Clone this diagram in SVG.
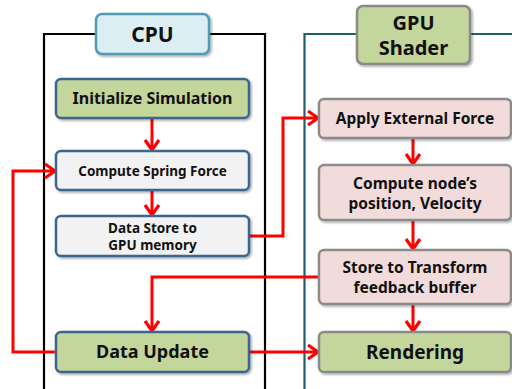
<svg xmlns="http://www.w3.org/2000/svg" width="512" height="389" viewBox="0 0 512 389">
<style>
text{font-family:"Noto Sans","Open Sans","DejaVu Sans",sans-serif;font-weight:bold;fill:#111;text-anchor:middle}
.cpu{stroke:#3E6591;stroke-width:2.5}
.gpu{stroke:#8A8A8A;stroke-width:2.5}
.green{fill:#C3D69B}
.gray{fill:#F2F2F2}
.pink{fill:#F2DCDB}
.conn{fill:none;stroke:#FF0000;stroke-width:3;marker-end:url(#ah)}
</style>
<defs>
<filter id="sh" x="-10%" y="-20%" width="125%" height="150%">
<feDropShadow dx="1.5" dy="1.5" stdDeviation="1.2" flood-color="#000" flood-opacity="0.35"/>
</filter>
<marker id="ah" viewBox="-13 -9 16 18" refX="1" refY="0" markerWidth="16" markerHeight="18" markerUnits="userSpaceOnUse" orient="auto">
<path d="M-10,-7 L0,0 L-10,7" fill="none" stroke="#FF0000" stroke-width="3.2"/>
</marker>
</defs>
<rect width="512" height="389" fill="#fff"/>
<g id="containers">
<path d="M44,395 V34 H265 V395" fill="none" stroke="#000" stroke-width="2.2"/>
<path d="M304.5,395 V34 H520" fill="none" stroke="#215E6E" stroke-width="2.2"/>
</g>
<g id="connectors">
<path class="conn" d="M152,118 V151"/>
<path class="conn" d="M152,190 V216"/>
<path class="conn" d="M249,236 H283 V118 H319"/>
<path class="conn" d="M413,138 V165"/>
<path class="conn" d="M413,220 V250"/>
<path class="conn" d="M413,304 V332"/>
<path class="conn" d="M319,277 H152 V332"/>
<path class="conn" d="M249,352 H319"/>
<path class="conn" d="M56,352 H13 V171 H56"/>
</g>
<g id="cpu-label">
<rect x="96" y="14" width="113" height="40" rx="6" fill="#DAEEF3" stroke="#4F9CB5" stroke-width="2.5" filter="url(#sh)"/>
<text x="152.5" y="42" font-size="21">CPU</text>
</g>
<g id="gpu-label">
<rect x="357" y="6" width="113" height="58" rx="6" class="green gpu" filter="url(#sh)"/>
<text x="413.5" y="30" font-size="20">GPU</text>
<text x="413.5" y="55" font-size="20">Shader</text>
</g>
<g id="init">
<rect x="56" y="79" width="193" height="39" rx="5" class="green cpu" filter="url(#sh)"/>
<text x="152.5" y="104" font-size="16">Initialize Simulation</text>
</g>
<g id="spring">
<rect x="56" y="151" width="193" height="39" rx="5" class="gray cpu" filter="url(#sh)"/>
<text x="152.5" y="176" font-size="13.5">Compute Spring Force</text>
</g>
<g id="store">
<rect x="56" y="216" width="193" height="40" rx="5" class="gray cpu" filter="url(#sh)"/>
<text x="152.5" y="233" font-size="13.5">Data Store to</text>
<text x="152.5" y="250" font-size="13.5">GPU memory</text>
</g>
<g id="update">
<rect x="56" y="332" width="193" height="40" rx="5" class="green cpu" filter="url(#sh)"/>
<text x="152.5" y="358" font-size="18">Data Update</text>
</g>
<g id="apply">
<rect x="319" y="99" width="192" height="39" rx="5" class="pink gpu" filter="url(#sh)"/>
<text x="415" y="124" font-size="15.5">Apply External Force</text>
</g>
<g id="compute">
<rect x="319" y="165" width="192" height="55" rx="5" class="pink gpu" filter="url(#sh)"/>
<text x="415" y="189" font-size="15.5">Compute node’s</text>
<text x="415" y="209" font-size="15.5">position, Velocity</text>
</g>
<g id="feedback">
<rect x="319" y="250" width="192" height="54" rx="5" class="pink gpu" filter="url(#sh)"/>
<text x="415" y="273" font-size="15.5">Store to Transform</text>
<text x="415" y="293" font-size="15.5">feedback buffer</text>
</g>
<g id="render">
<rect x="319" y="332" width="192" height="40" rx="5" class="green gpu" filter="url(#sh)"/>
<text x="415" y="359" font-size="19">Rendering</text>
</g>
</svg>
